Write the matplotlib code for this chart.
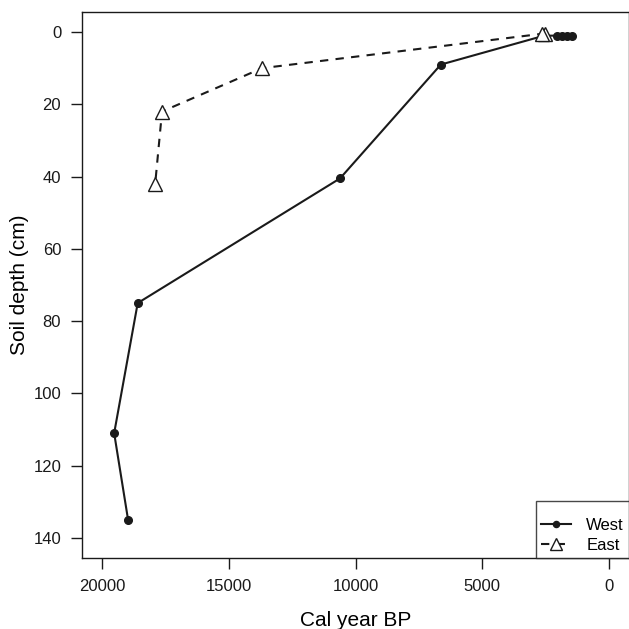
import matplotlib
matplotlib.use('Agg')
import matplotlib.pyplot as plt

# West profile (cal year BP, depth cm)
west_age = [1450, 1650, 1850, 2050, 2550, 6630, 10610, 18600, 19530, 18980]
west_depth = [1, 1, 1, 1, 1, 9, 40.5, 75, 111, 135]

# East profile
east_age = [2500, 2650, 13690, 17640, 17910]
east_depth = [0.5, 0.5, 10, 22, 42]

x_ticks = [20000, 15000, 10000, 5000, 0]
y_ticks = [0, 20, 40, 60, 80, 100, 120, 140]


def main():
    plt.rcParams['font.family'] = ['Liberation Sans', 'DejaVu Sans']
    fig = plt.figure(figsize=(6.29, 6.29), dpi=100)
    ax = fig.add_axes([82 / 629, 1 - 558.2 / 629, 1 - 82 / 629, (558.2 - 11.8) / 629])

    ax.plot(west_age, west_depth, color='#1a1a1a', lw=1.5, marker='o',
            ms=5.5, label='West')
    ax.plot(east_age, east_depth, color='#1a1a1a', lw=1.5, dashes=(4, 3.5),
            marker='^', ms=10, mfc='white', mec='#1a1a1a', mew=1.0,
            label='East')

    ax.set_xlim(20800, -800)
    ax.set_ylim(145.6, -5.6)
    ax.set_xticks(x_ticks)
    ax.set_yticks(y_ticks)
    ax.tick_params(direction='out', length=8, width=1, labelsize=12,
                   colors='#1a1a1a', pad=7)
    for s in ax.spines.values():
        s.set_linewidth(1)
        s.set_color('#1a1a1a')

    ax.set_xlabel('Cal year BP', fontsize=15, labelpad=12)
    ax.set_ylabel('Soil depth (cm)', fontsize=15, labelpad=3)

    leg = ax.legend(loc='lower right', fontsize=12, frameon=True, fancybox=False,
                    borderaxespad=0, handlelength=1.85, handletextpad=0.9,
                    borderpad=0.3, labelspacing=0.3, markerscale=0.8,
                    title=' ', title_fontsize=6)
    leg.get_frame().set_edgecolor('#1a1a1a')
    leg.get_frame().set_linewidth(1)

    fig.savefig('out.png', dpi=100)


if __name__ == '__main__':
    main()
